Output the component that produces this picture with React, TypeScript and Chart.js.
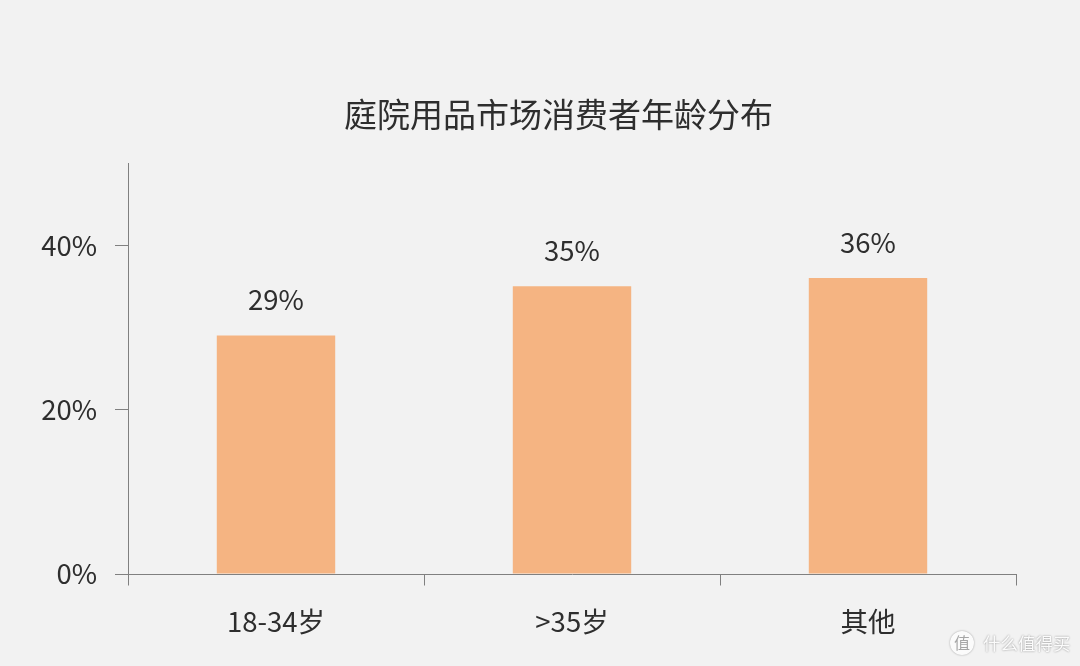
import React, { useEffect, useRef } from "react";
import { Chart, registerables } from "chart.js";

Chart.register(...registerables);

const categories = ["18-34岁", ">35岁", "其他"];
const shares = [29, 35, 36];
const yTicks = [0, 20, 40];
const titleText = "庭院用品市场消费者年龄分布";
const watermark = "什么值得买";
const watermarkGlyph = "值";
const FONT = '"Noto Sans CJK SC", "Noto Sans", sans-serif';
const INK = "#2e2e2e";
const AXIS = "#808080";

const decor = {
  id: "decor",
  beforeDraw(c: any) {
    const { ctx, width, height } = c;
    ctx.save();
    ctx.fillStyle = "#f2f2f2";
    ctx.fillRect(0, 0, width, height);
    ctx.restore();
  },
  afterDatasetsDraw(c: any) {
    const { ctx, scales } = c;
    const meta = c.getDatasetMeta(0);
    ctx.save();
    ctx.textAlign = "center";
    ctx.textBaseline = "middle";
    ctx.fillStyle = INK;
    ctx.font = `33px ${FONT}`;
    ctx.fillText(titleText, 558.5, 114.5);
    ctx.font = `27.5px ${FONT}`;
    meta.data.forEach((b: any, i: number) => {
      ctx.fillText(`${shares[i]}%`, b.x, b.y - 36);
    });
    ctx.strokeStyle = AXIS;
    ctx.lineWidth = 1;
    const y0 = Math.round(scales.y.bottom) + 0.5;
    const n = categories.length;
    for (let i = 0; i <= n; i++) {
      const x = Math.round(scales.x.left + ((scales.x.right - scales.x.left) * i) / n) + 0.5;
      ctx.beginPath();
      ctx.moveTo(x, y0);
      ctx.lineTo(x, y0 + 11);
      ctx.stroke();
    }
    ctx.shadowColor = "rgba(0,0,0,0.35)";
    ctx.shadowBlur = 2;
    ctx.fillStyle = "#fbfbfb";
    ctx.beginPath();
    ctx.arc(962, 643, 12, 0, Math.PI * 2);
    ctx.fill();
    ctx.shadowBlur = 0;
    ctx.shadowColor = "transparent";
    ctx.fillStyle = "#a6a6a6";
    ctx.font = `16px ${FONT}`;
    ctx.fillText(watermarkGlyph, 962, 643);
    ctx.font = `17.5px ${FONT}`;
    ctx.textAlign = "left";
    ctx.shadowColor = "rgba(0,0,0,0.45)";
    ctx.shadowBlur = 2;
    ctx.fillStyle = "#fbfbfb";
    ctx.fillText(watermark, 983, 643);
    ctx.restore();
  },
};

export default function App() {
  const ref = useRef<HTMLCanvasElement>(null);
  useEffect(() => {
    document.body.style.margin = "0";
    const chart = new Chart(ref.current!, {
      type: "bar",
      data: {
        labels: categories,
        datasets: [
          {
            data: shares,
            backgroundColor: "#f5b482",
            barPercentage: 0.4,
            categoryPercentage: 1,
          },
        ],
      },
      plugins: [decor],
      options: {
        responsive: false,
        animation: false,
        layout: { padding: { left: 0, right: 64, top: 163, bottom: 0 } },
        plugins: {
          legend: { display: false },
          tooltip: { enabled: false },
          title: { display: false },
        },
        scales: {
          x: {
            afterFit(axis: any) {
              axis.height = 92;
            },
            grid: { display: false, drawTicks: false },
            border: { color: AXIS },
            ticks: {
              color: INK,
              font: { family: FONT, size: 27.5 },
              padding: 31,
              maxRotation: 0,
            },
          },
          y: {
            min: 0,
            max: 50,
            afterFit(axis: any) {
              axis.width = 128;
            },
            afterBuildTicks(axis: any) {
              axis.ticks = yTicks.map((value) => ({ value }));
            },
            grid: { display: true, drawOnChartArea: false, drawTicks: true, tickLength: 13, tickColor: AXIS },
            border: { color: AXIS },
            ticks: {
              color: INK,
              font: { family: FONT, size: 27.5 },
              padding: 18,
              callback: (v: any) => `${v}%`,
            },
          },
        },
      },
    } as any);
    return () => chart.destroy();
  }, []);
  return <canvas ref={ref} width={1080} height={666} style={{ display: "block" }} />;
}
